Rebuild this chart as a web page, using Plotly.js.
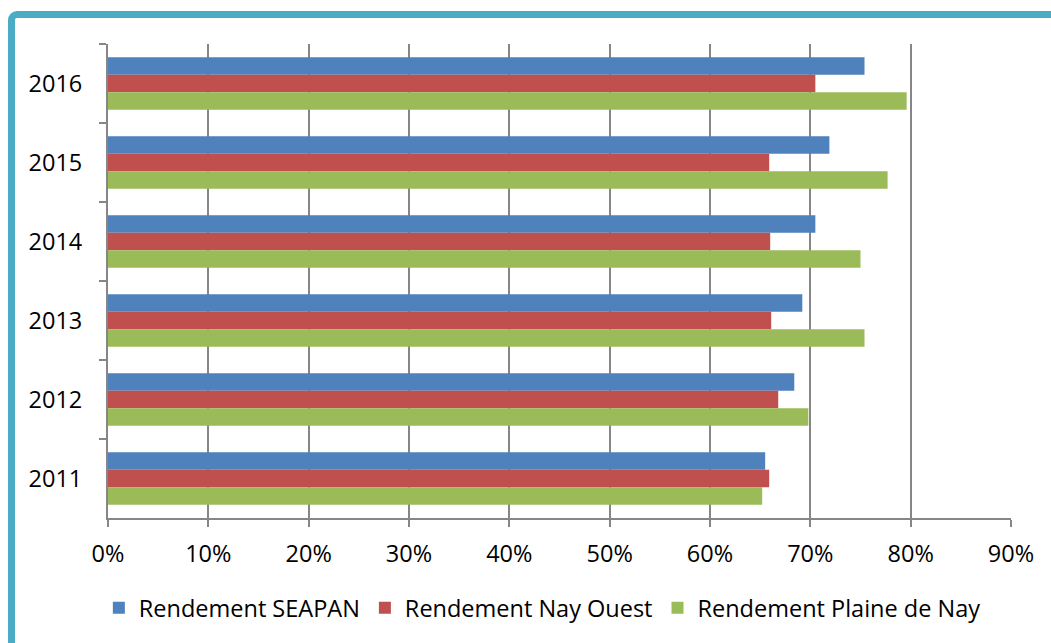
<!DOCTYPE html>
<html>
<head>
<meta charset="utf-8">
<script src="https://cdn.plot.ly/plotly-3.0.1.min.js"></script>
<style>
  html, body { margin: 0; padding: 0; width: 1051px; height: 643px; overflow: hidden; background: #fff; }
  #frame { position: absolute; left: 8px; top: 11px; width: 1100px; height: 700px;
           border: 7.5px solid #4BACC6; border-radius: 9px; box-sizing: border-box; }
  #chart { position: absolute; left: 0; top: 0; width: 1051px; height: 643px; }
</style>
</head>
<body>
<div id="frame"></div>
<div id="chart"></div>
<script>
const years = ['2011', '2012', '2013', '2014', '2015', '2016'];
const seriesNames = ['Rendement SEAPAN', 'Rendement Nay Ouest', 'Rendement Plaine de Nay'];
const seapan = [0.655, 0.684, 0.692, 0.705, 0.719, 0.754];
const nayOuest = [0.659, 0.668, 0.661, 0.660, 0.659, 0.705];
const plaineDeNay = [0.652, 0.698, 0.754, 0.750, 0.777, 0.796];
const colors = ['#4F81BD', '#C0504D', '#9BBB59'];
const xTickVals = [0, 0.1, 0.2, 0.3, 0.4, 0.5, 0.6, 0.7, 0.8, 0.9];

const values = [seapan, nayOuest, plaineDeNay];
const FONT = 'Open Sans, Liberation Sans, sans-serif';
const FS = 23.5;

const traces = values.map((v, i) => ({
  type: 'bar',
  orientation: 'h',
  name: seriesNames[i],
  y: years,
  x: v,
  marker: { color: colors[i], line: { width: 0 } },
  hoverinfo: 'x+y+name'
}));

const layout = {
  width: 1051,
  height: 643,
  paper_bgcolor: 'rgba(0,0,0,0)',
  plot_bgcolor: 'rgba(0,0,0,0)',
  margin: { l: 108, r: 40, t: 44, b: 125 },
  barmode: 'group',
  bargap: 0.335,
  bargroupgap: 0,
  font: { family: FONT, size: FS, color: '#000' },
  xaxis: {
    range: [0, 0.9],
    tickvals: xTickVals,
    tickformat: '.0%',
    showgrid: true,
    gridcolor: '#868686',
    gridwidth: 2,
    zeroline: false,
    showline: true,
    linecolor: '#868686',
    linewidth: 2,
    ticks: 'outside',
    ticklen: 7,
    tickwidth: 2,
    tickcolor: '#868686',
    ticklabelstandoff: 7,
    tickfont: { family: FONT, size: FS, color: '#000' },
    fixedrange: true
  },
  yaxis: {
    type: 'category',
    categoryorder: 'array',
    categoryarray: years.slice().reverse(),
    autorange: 'reversed',
    showgrid: false,
    zeroline: false,
    showline: true,
    linecolor: '#868686',
    linewidth: 2,
    ticks: 'outside',
    tickson: 'boundaries',
    ticklen: 7,
    tickwidth: 2,
    tickcolor: '#868686',
    ticklabelstandoff: 19,
    tickfont: { family: FONT, size: FS, color: '#000' },
    fixedrange: true
  },
  showlegend: true,
  legend: {
    orientation: 'h',
    x: 0.481,
    xanchor: 'center',
    y: -0.19,
    yanchor: 'middle',
    font: { family: FONT, size: FS, color: '#000' },
    itemwidth: 30,
    bgcolor: 'rgba(0,0,0,0)'
  }
};

Plotly.newPlot('chart', traces, layout, { displayModeBar: false, staticPlot: true });
</script>
</body>
</html>
